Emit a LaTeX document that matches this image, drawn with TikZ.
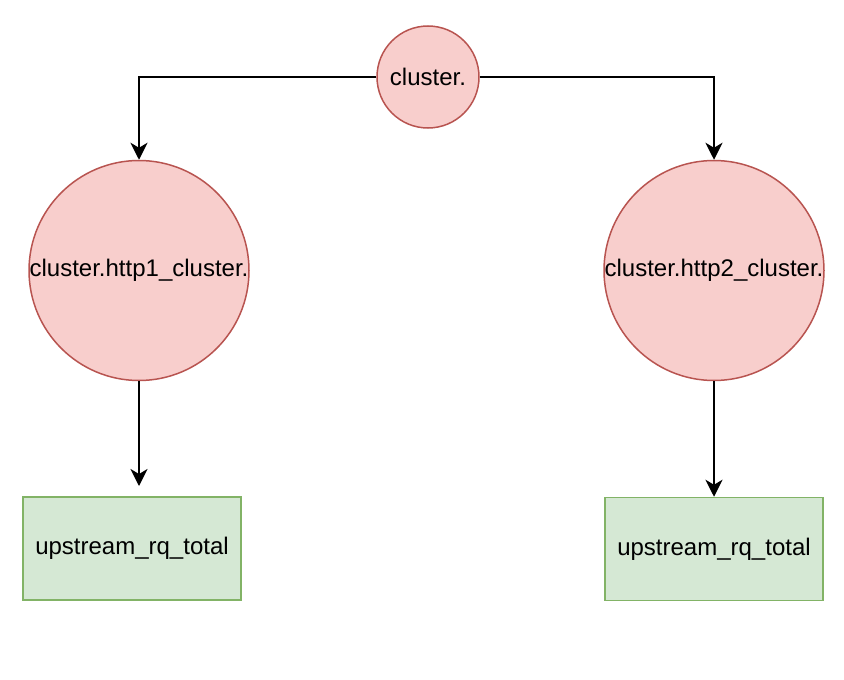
\documentclass[tikz,border=0pt]{standalone}
\usepackage{fontspec}
\setmainfont{Liberation Sans}
\usetikzlibrary{arrows.meta,positioning}
\definecolor{redfill}{HTML}{F8CECC}
\definecolor{redline}{HTML}{B85450}
\definecolor{greenfill}{HTML}{D5E8D4}
\definecolor{greenline}{HTML}{82B366}

\begin{document}
\begin{tikzpicture}[x=1pt,y=-1pt,
    statnode/.style={circle,draw=redline,fill=redfill,line width=1.5pt,inner sep=0pt,
        font=\fontsize{24}{28}\selectfont},
    counterbox/.style={rectangle,draw=greenline,fill=greenfill,line width=1.5pt,
        minimum width=218pt,minimum height=103pt,font=\fontsize{24}{28}\selectfont},
    link/.style={line width=1.8pt,-{Stealth[length=17pt,width=17pt,inset=5pt]}}]
    \useasboundingbox (0,0) rectangle (844,680);

    % root prefix
    \node[statnode,minimum size=102pt] (root) at (428,77) {cluster.};

    % per-cluster prefixes
    \node[statnode,minimum size=220pt] (http1) at (139,270.5) {cluster.http1\_cluster.};
    \node[statnode,minimum size=220pt] (http2) at (714,270.5) {cluster.http2\_cluster.};

    % counters
    \node[counterbox] (rq1) at (132,548.5) {upstream\_rq\_total};
    \node[counterbox] (rq2) at (714,549) {upstream\_rq\_total};
    \coordinate (rq1top) at (139,486);

    % connectors
    \draw[link] (root.west) -| (http1.north);
    \draw[link] (root.east) -| (http2.north);
    \draw[link] (http1.south) -- (rq1top);
    \draw[link] (http2.south) -- (rq2.north);
\end{tikzpicture}
\end{document}
